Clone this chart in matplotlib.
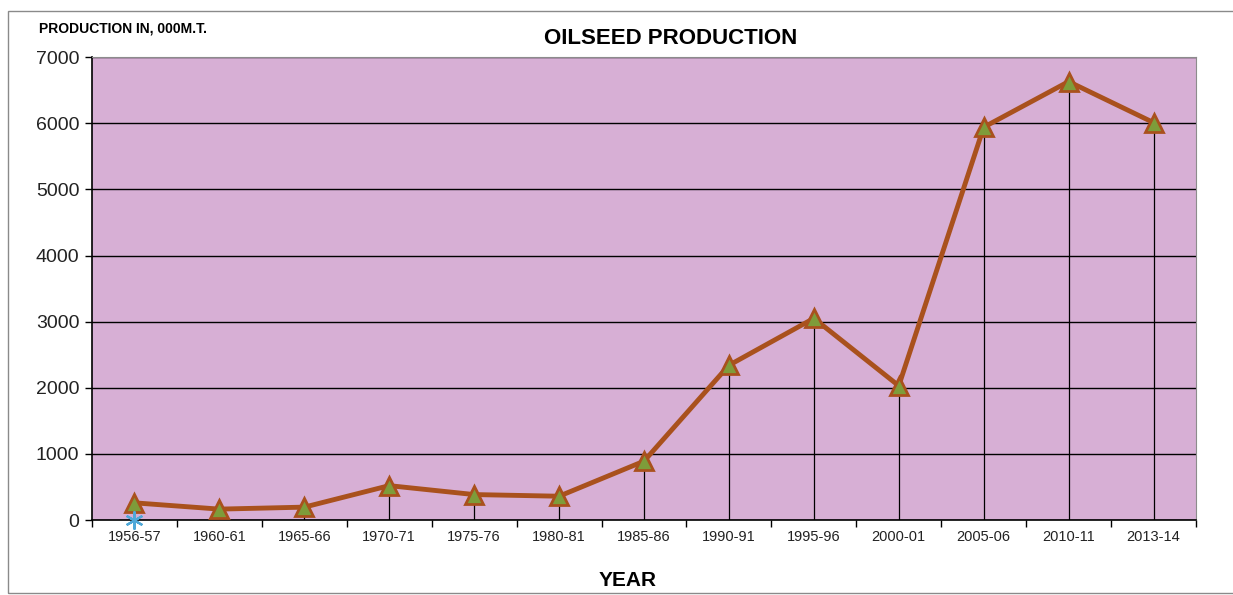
import numpy as np
import matplotlib.pyplot as plt
from matplotlib.patches import Rectangle

plt.rcParams['font.family'] = ['Liberation Sans', 'DejaVu Sans']

years = ['1956-57', '1960-61', '1965-66', '1970-71', '1975-76', '1980-81', '1985-86',
         '1990-91', '1995-96', '2000-01', '2005-06', '2010-11', '2013-14']
production = [260, 165, 195, 520, 385, 360, 890, 2340, 3050, 2030, 5940, 6630, 6010]
# second series shows only one point at the origin
other = [0]

fig = plt.figure(figsize=(12.33, 5.95), dpi=100)
fig.patches.append(Rectangle((0.0065, 0.004), 1.05, 0.977, transform=fig.transFigure,
                             fill=False, edgecolor='#8a8a8a', linewidth=1))
ax = fig.add_axes([0.0746, 0.126, 0.8954, 0.778])
ax.set_facecolor('#D7AFD5')

x = np.arange(len(years))
ax.vlines(x, 0, production, colors='black', linewidth=0.9, zorder=2)
ax.plot(x, production, color='#A9511D', linewidth=3.5, marker='^', markersize=13,
        markerfacecolor='#7E9C3A', markeredgecolor='#A9511D', markeredgewidth=2, zorder=4)
ax.plot(x[:len(other)], other, linestyle='none', marker=(6, 2, 0), markersize=13,
        markeredgecolor='#4FA8D8', markeredgewidth=1.6, zorder=5, clip_on=False)

ax.set_xlim(-0.5, len(years) - 0.5)
ax.set_ylim(0, 7000)
ax.set_yticks(np.arange(0, 7001, 1000))
ax.yaxis.grid(True, color='black', linewidth=1)
ax.set_axisbelow(True)
ax.set_xticks(x)
ax.set_xticklabels(years, fontsize=10.5, color='#222222')
ax.set_xticks(np.arange(-0.5, len(years), 1), minor=True)
ax.tick_params(axis='x', which='major', length=0, pad=7)
ax.tick_params(axis='x', which='minor', length=5, direction='out', width=1)
ax.tick_params(axis='y', labelsize=14, length=5, width=1, pad=4, labelcolor='#222222')
for s in ['top', 'right']:
    ax.spines[s].set_color('#8c8c8c')
for s in ['left', 'bottom']:
    ax.spines[s].set_color('black')
    ax.spines[s].set_linewidth(1.2)

fig.text(0.544, 0.935, 'OILSEED PRODUCTION', ha='center', va='center',
         fontsize=16, fontweight='bold')
fig.text(0.032, 0.952, 'PRODUCTION IN, 000M.T.', ha='left', va='center',
         fontsize=10, fontweight='bold')
fig.text(0.509, 0.025, 'YEAR', ha='center', va='center', fontsize=15, fontweight='bold')

fig.savefig('out.png', dpi=100)
